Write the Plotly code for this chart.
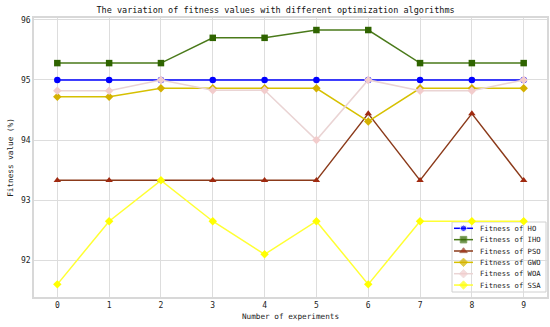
import plotly.graph_objects as go

experiments = [0, 1, 2, 3, 4, 5, 6, 7, 8, 9]
ho = [95.0, 95.0, 95.0, 95.0, 95.0, 95.0, 95.0, 95.0, 95.0, 95.0]
iho = [95.28, 95.28, 95.28, 95.7, 95.7, 95.83, 95.83, 95.28, 95.28, 95.28]
pso = [93.33, 93.33, 93.33, 93.33, 93.33, 93.33, 94.44, 93.33, 94.44, 93.33]
gwo = [94.72, 94.72, 94.86, 94.86, 94.86, 94.86, 94.31, 94.86, 94.86, 94.86]
woa = [94.82, 94.82, 95.0, 94.83, 94.83, 94.0, 95.0, 94.82, 94.82, 95.0]
ssa = [91.6, 92.65, 93.33, 92.65, 92.1, 92.65, 91.6, 92.65, 92.65, 92.65]

series = [
    ("Fitness of HO", ho, "#0000ff", "#0000ff", "circle"),
    ("Fitness of IHO", iho, "#4a7a1a", "#2f6400", "square"),
    ("Fitness of PSO", pso, "#8b3a1a", "#a02a10", "triangle-up"),
    ("Fitness of GWO", gwo, "#d6c000", "#d4b000", "diamond"),
    ("Fitness of WOA", woa, "#ead4d4", "#f2cccc", "diamond"),
    ("Fitness of SSA", ssa, "#ffff33", "#ffff00", "diamond"),
]

W, H = 550, 327
L, R, T, B = 34, 3, 18, 30
font_family = "DejaVu Sans Mono"

# pixel -> paper helpers for the hand-built legend
pw, ph = W - L - R, H - T - B
def px(x):
    return (x - L) / pw
def py(y):
    return (H - B - y) / ph

fig = go.Figure()
for name, vals, lc, mc, sym in series:
    fig.add_trace(go.Scatter(
        x=experiments, y=vals, name=name, mode="lines+markers",
        line=dict(color=lc, width=1.5),
        marker=dict(color=mc, symbol=sym, size=6.5),
        showlegend=False,
    ))

# legend box
fig.add_shape(type="rect", xref="paper", yref="paper",
              x0=px(452), x1=px(546), y0=py(292), y1=py(222),
              line=dict(color="#d0d0d0", width=1), fillcolor="white", layer="between")
shapes_y0 = 228.3
step = 11.35
for i, (name, vals, lc, mc, sym) in enumerate(series):
    yy = py(shapes_y0 + i * step)
    fig.add_trace(go.Scatter(
        x=[px(454), px(463.5), px(473)], y=[yy, yy, yy], mode="lines+markers",
        line=dict(color=lc, width=1.5),
        marker=dict(color=mc, symbol=sym, size=[0, 6.5, 0]),
        xaxis="x2", yaxis="y2", showlegend=False, hoverinfo="skip",
    ))
    fig.add_annotation(x=px(478), y=yy, xref="paper", yref="paper", text=name,
                       showarrow=False, xanchor="left", yanchor="middle",
                       font=dict(size=7.2, family=font_family, color="#222222"))

fig.update_layout(
    width=W, height=H,
    margin=dict(l=L, r=R, t=T, b=B, autoexpand=False),
    plot_bgcolor="white", paper_bgcolor="white",
    font=dict(family=font_family, size=8, color="#222222"),
    title=dict(text="The variation of fitness values with different optimization algorithms",
               x=0.501, xanchor="center", y=0.969, yanchor="middle",
               font=dict(size=8.5, color="#111111", family=font_family)),
    showlegend=False,
    hovermode=False,
    xaxis=dict(
        range=[-0.45, 9.45], tickvals=experiments, ticktext=[str(v) for v in experiments],
        showgrid=True, gridcolor="#dddddd", gridwidth=1, zeroline=False,
        showline=True, linecolor="#d8d8d8", linewidth=1.5, mirror=True, automargin=False,
        title=dict(text="Number of experiments", standoff=4, font=dict(size=7.7)),
        tickfont=dict(size=8),
    ),
    yaxis=dict(
        range=[91.39, 96.03], tickvals=[92, 93, 94, 95, 96],
        showgrid=True, gridcolor="#dddddd", gridwidth=1, zeroline=False,
        showline=True, linecolor="#d8d8d8", linewidth=1.5, mirror=True, automargin=False,
        title=dict(text="Fitness value (%)", standoff=6, font=dict(size=7.7)),
        tickfont=dict(size=8),
    ),
    xaxis2=dict(overlaying="x", range=[0, 1], visible=False, fixedrange=True),
    yaxis2=dict(overlaying="y", range=[0, 1], visible=False, fixedrange=True),
)

fig.write_html("out.html", config={"displayModeBar": False},
               post_script="document.body.style.margin='0';")
